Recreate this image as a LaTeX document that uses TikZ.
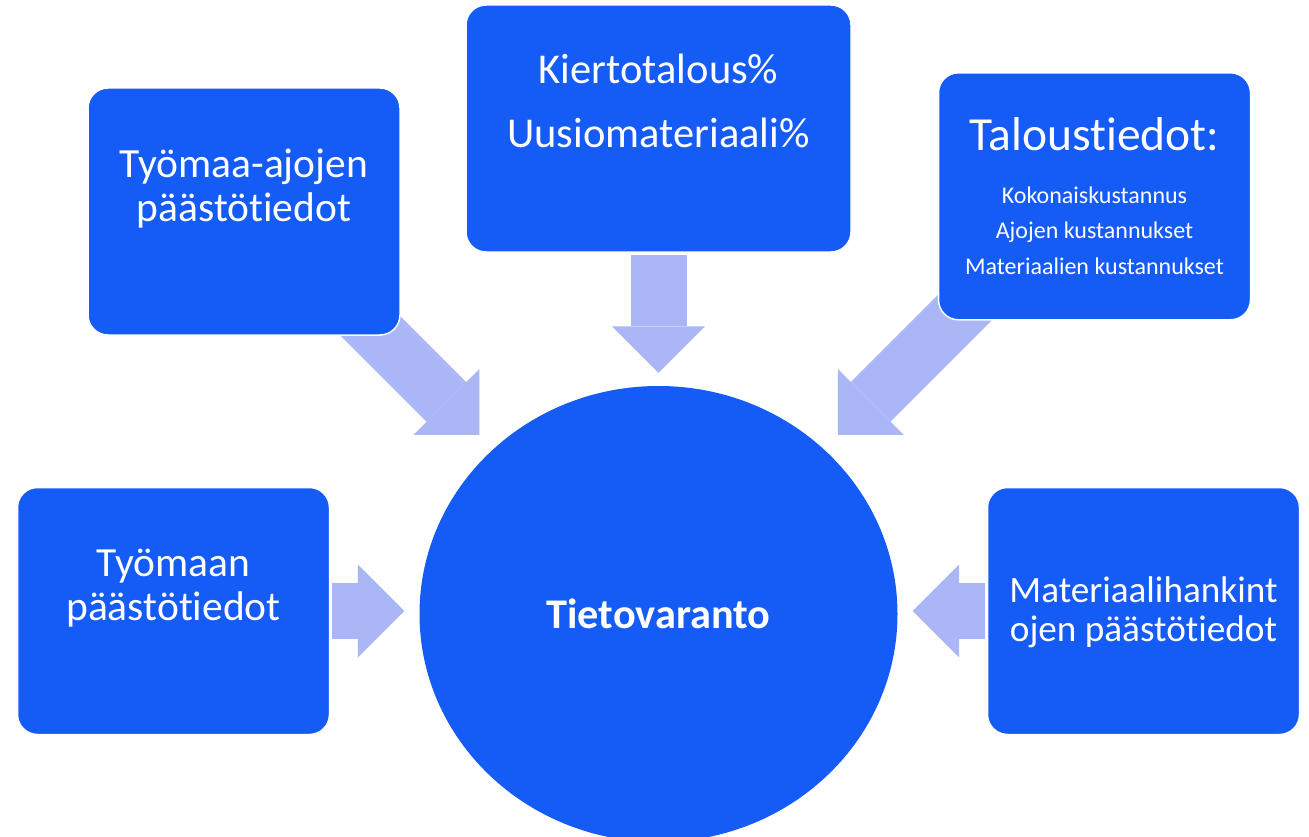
\documentclass[tikz,border=0pt]{standalone}
\usepackage{fontspec}
\setmainfont{Carlito}[Ligatures={NoCommon,NoContextual}]
\usetikzlibrary{arrows.meta,positioning,shapes.geometric,backgrounds}
\definecolor{boxblue}{RGB}{21,91,245}
\definecolor{arrowblue}{RGB}{171,182,247}
\tikzset{
  infobox/.style={draw=white, line width=1.5pt, fill=boxblue, rounded corners=20pt,
    minimum width=312pt, minimum height=247pt, inner sep=0pt},
  boxtext/.style={text=white, align=center, inner sep=0pt},
  bigarrow/.style={draw=arrowblue, line width=56pt,
    -{Triangle[width=93pt,length=46.5pt,line width=0pt]}},
}
\begin{document}
\begin{tikzpicture}[x=1pt,y=-1pt]
  \useasboundingbox (0,0) rectangle (1309,837);
  \clip (0,0) rectangle (1309,837);
  % keskus
  \node[ellipse, fill=boxblue, minimum width=478pt, minimum height=456pt, inner sep=0pt,
        text=white, font=\fontsize{42.3}{50}\selectfont\bfseries] (hub) at (658.5,614) {Tietovaranto};
  % laatikot
  \node[infobox] (tl) at (244,211.5) {};
  \node[infobox, minimum width=385pt] (tm) at (658.5,128.5) {};
  \node[infobox] (tr) at (1094.5,196.3) {};
  \node[infobox] (bl) at (173.5,611) {};
  \node[infobox] (br) at (1143.5,611) {};
  % tekstit
  \node[boxtext, font=\fontsize{41.5}{44}\selectfont, below=61pt of tl.north] (tltext)
    {Työmaa-ajojen\\päästötiedot};
  \node[boxtext, font=\fontsize{42.5}{64}\selectfont, below=50pt of tm.north] (tmtext)
    {Kiertotalous\%\\Uusiomateriaali\%};
  \node[boxtext, font=\fontsize{24}{35.8}\selectfont, below=45pt of tr.north] (trtext)
    {{\fontsize{47.5}{52}\selectfont Taloustiedot:}\\[17pt]Kokonaiskustannus\\Ajojen kustannukset\\Materiaalien kustannukset};
  \node[boxtext, font=\fontsize{41.5}{44}\selectfont, below=62pt of bl.north] (bltext)
    {Työmaan\\päästötiedot};
  \node[boxtext, font=\fontsize{37.2}{39}\selectfont, below=90pt of br.north] (brtext)
    {Materiaalihankint\\ojen päästötiedot};
  % nuolet
  \begin{scope}[on background layer]
    \path (hub.center) ++(-135:470) coordinate (tlfoot);
    \path (hub.center) ++(-45:470) coordinate (trfoot);
    \draw[bigarrow, shorten >=20pt] (tlfoot) -- (hub);
    \draw[bigarrow, shorten >=20pt] (trfoot) -- (hub);
    \draw[bigarrow, shorten <=2pt, shorten >=13pt] (tm.south) -- (tm.south |- hub.north);
    \draw[bigarrow, shorten <=2pt, shorten >=15pt] (bl.east) -- (bl.east -| hub.west);
    \draw[bigarrow, shorten <=2pt, shorten >=15pt] (br.west) -- (br.west -| hub.east);
  \end{scope}
\end{tikzpicture}
\end{document}
